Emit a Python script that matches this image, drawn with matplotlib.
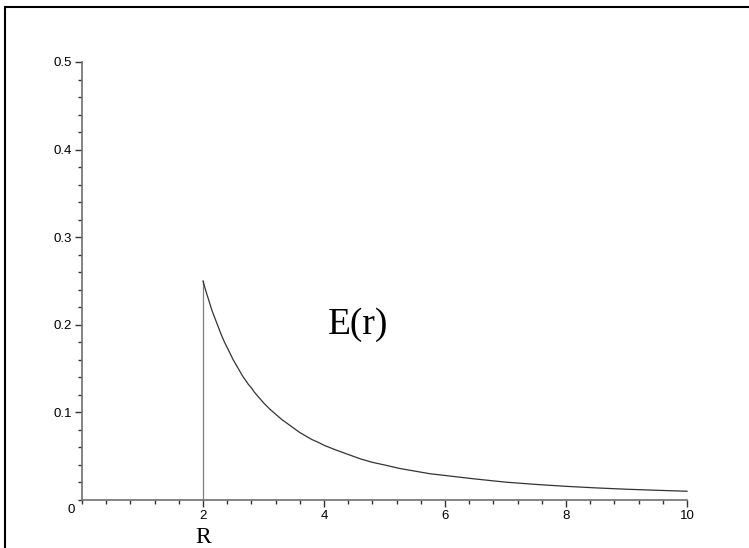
import matplotlib
matplotlib.use("Agg")
import matplotlib.pyplot as plt
from matplotlib.patches import Rectangle
from matplotlib.ticker import MultipleLocator

r_vals = [2.0, 2.05, 2.1, 2.15, 2.2, 2.25, 2.3, 2.35, 2.4, 2.45, 2.5,
          2.55, 2.6, 2.65, 2.7, 2.75, 2.8, 2.85, 2.9, 2.95, 3.0,
          3.1, 3.2, 3.3, 3.4, 3.5, 3.6, 3.7, 3.8, 3.9, 4.0,
          4.2, 4.4, 4.6, 4.8, 5.0, 5.25, 5.5, 5.75, 6.0, 6.5,
          7.0, 7.5, 8.0, 8.5, 9.0, 9.5, 10.0]
e_vals = [0.250, 0.238, 0.227, 0.216, 0.207, 0.198, 0.189, 0.181, 0.174, 0.167, 0.160,
          0.154, 0.148, 0.142, 0.137, 0.132, 0.128, 0.123, 0.119, 0.115, 0.111,
          0.104, 0.098, 0.092, 0.087, 0.082, 0.077, 0.073, 0.069, 0.066, 0.0625,
          0.057, 0.052, 0.047, 0.043, 0.040, 0.036, 0.033, 0.030, 0.028, 0.024,
          0.0204, 0.0178, 0.0156, 0.0138, 0.0123, 0.0111, 0.0100]
step_r = 2.0
step_top = 0.25
x_ticks = [2, 4, 6, 8, 10]
y_ticks = [0.1, 0.2, 0.3, 0.4, 0.5]
y_tick_labels = ["0.1", "0.2", "0.3", "0.4", "0.5"]

W, H = 749, 548
fig = plt.figure(figsize=(W / 100, H / 100), dpi=100)
fig.patch.set_facecolor("white")

# outer frame
fig.patches.append(Rectangle((5 / W, -0.05), 1.2, 1 - 7 / H + 0.05,
                             transform=fig.transFigure, fill=False,
                             edgecolor="black", linewidth=1.5))

ax = fig.add_axes([82 / W, 1 - 500 / H, (687 - 82) / W, (500 - 62) / H])
ax.set_xlim(0, 10)
ax.set_ylim(0, 0.5)
ax.patch.set_alpha(0)
for s in ["top", "right"]:
    ax.spines[s].set_visible(False)
axis_col = "#707070"
for s in ["left", "bottom"]:
    ax.spines[s].set_color(axis_col)
    ax.spines[s].set_linewidth(1.2)

ax.plot([step_r, step_r], [0, step_top], color="#808080", linewidth=0.9,
        clip_on=False)
ax.plot(r_vals, e_vals, color="#333333", linewidth=0.9, clip_on=False)

tick_font = "Liberation Sans"
ax.set_xticks(x_ticks)
ax.set_xticklabels([str(t) for t in x_ticks], family=tick_font)
ax.set_yticks(y_ticks)
ax.set_yticklabels(y_tick_labels, family=tick_font)
ax.xaxis.set_minor_locator(MultipleLocator(0.4))
ax.yaxis.set_minor_locator(MultipleLocator(0.02))
ax.tick_params(which="major", direction="out", length=5, width=1,
               color="#333333", labelsize=9.5, pad=2)
ax.tick_params(which="minor", direction="out", length=3, width=1,
               color="#333333")
ax.text(-0.12, -0.004, "0", ha="right", va="top", fontsize=9.5,
        family=tick_font, transform=ax.transData)

ax.text(2.0, -0.0425, "R", ha="center", va="center", fontsize=17,
        family="Liberation Serif")
ax.text(4.56, 0.2, "E(r)", ha="center", va="center", fontsize=27,
        family="Liberation Serif")

fig.savefig("out.png", dpi=100)
